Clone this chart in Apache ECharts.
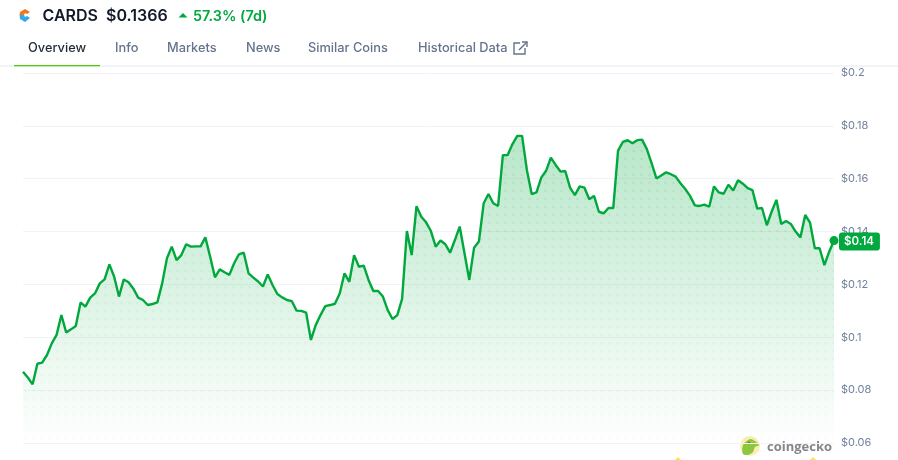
<!DOCTYPE html>
<html>
<head>
<meta charset="utf-8">
<title>CARDS price</title>
<script src="https://cdn.jsdelivr.net/npm/echarts@6/dist/echarts.min.js"></script>
<style>
    html, body { margin: 0; padding: 0; background: #fff; }
    #chart { width: 898px; height: 460px; }
</style>
</head>
<body>
<div id="chart"></div>
<script>
const tickLabels = [0.06, 0.08, 0.1, 0.12, 0.14, 0.16, 0.18, 0.2];
const tabLabels = ["Overview", "Info", "Markets", "News", "Similar Coins", "Historical Data"];
const tabOffsets = [28, 115, 167, 246, 308, 418];
const prices = [
    0.0870, 0.0848, 0.0822, 0.0900, 0.0904, 0.0933, 0.0977, 0.1009, 0.1084, 0.1018,
    0.1030, 0.1043, 0.1132, 0.1116, 0.1150, 0.1166, 0.1204, 0.1219, 0.1276, 0.1229,
    0.1154, 0.1219, 0.1208, 0.1184, 0.1150, 0.1141, 0.1122, 0.1126, 0.1132, 0.1204,
    0.1299, 0.1343, 0.1292, 0.1311, 0.1352, 0.1343, 0.1344, 0.1344, 0.1378, 0.1305,
    0.1227, 0.1257, 0.1246, 0.1236, 0.1280, 0.1314, 0.1320, 0.1242, 0.1226, 0.1211,
    0.1192, 0.1238, 0.1198, 0.1164, 0.1151, 0.1141, 0.1137, 0.1101, 0.1100, 0.1093,
    0.0990, 0.1046, 0.1084, 0.1118, 0.1122, 0.1127, 0.1166, 0.1242, 0.1210, 0.1311,
    0.1267, 0.1271, 0.1217, 0.1175, 0.1175, 0.1154, 0.1103, 0.1069, 0.1084, 0.1145,
    0.1402, 0.1311, 0.1496, 0.1456, 0.1435, 0.1402, 0.1343, 0.1366, 0.1352, 0.1320,
    0.1368, 0.1419, 0.1318, 0.1217, 0.1339, 0.1362, 0.1507, 0.1542, 0.1507, 0.1497,
    0.1689, 0.1690, 0.1731, 0.1762, 0.1762, 0.1633, 0.1542, 0.1548, 0.1604, 0.1630,
    0.1680, 0.1652, 0.1627, 0.1629, 0.1566, 0.1538, 0.1571, 0.1566, 0.1522, 0.1535,
    0.1475, 0.1469, 0.1489, 0.1489, 0.1706, 0.1739, 0.1746, 0.1734, 0.1746, 0.1748,
    0.1712, 0.1658, 0.1601, 0.1612, 0.1624, 0.1617, 0.1608, 0.1583, 0.1561, 0.1535,
    0.1499, 0.1497, 0.1502, 0.1494, 0.1571, 0.1548, 0.1543, 0.1577, 0.1555, 0.1594,
    0.1581, 0.1564, 0.1557, 0.1487, 0.1489, 0.1424, 0.1475, 0.1520, 0.1429, 0.1440,
    0.1429, 0.1400, 0.1378, 0.1463, 0.1434, 0.1337, 0.1337, 0.1273, 0.1324, 0.1366,
];
const categories = prices.map((_, i) => i);

const GREEN = "#00a83e";
const FONT = "Inter, sans-serif";
const lastIndex = prices.length - 1;

// dot texture over the area, fades out towards the bottom of the plot
function dotPattern() {
    const canvas = document.createElement("canvas");
    canvas.width = 8;
    canvas.height = 456;
    const ctx = canvas.getContext("2d");
    for (let y = 7; y < 456; y += 8) {
        const alpha = 0.02 + (0.1 * Math.max(0, 443 - y)) / 370;
        ctx.fillStyle = `rgba(0,150,70,${alpha})`;
        ctx.beginPath();
        ctx.arc(1.5, y, 1.3, 0, Math.PI * 2);
        ctx.fill();
    }
    return canvas;
}

function text(x, y, str, fill, font, extra) {
    return {
        type: "text",
        x,
        y,
        silent: true,
        style: Object.assign({ text: str, fill, font, textVerticalAlign: "middle" }, extra),
    };
}

function poly(points, fill, smooth) {
    return { type: "polygon", silent: true, shape: { points, smooth: smooth || 0 }, style: { fill } };
}

const header = [
    // logo
    poly([[20, 12], [25, 9], [30, 12], [27, 14], [25, 13], [24, 15], [19.5, 15]], "#f5761a"),
    poly([[19.5, 15], [24, 15], [25, 17], [27, 16], [30, 18], [25, 22], [20, 19]], "#35a7f2"),
    text(42.5, 16, "CARDS", "#111827", `600 16px ${FONT}`),
    text(106, 16, "$0.1366", "#111827", `600 16px ${FONT}`),
    poly([[178.5, 17.5], [183, 13], [187.5, 17.5]], GREEN),
    text(193, 16.5, "57.3% (7d)", GREEN, `600 14.4px ${FONT}`),
    // tab strip
    { type: "rect", silent: true, shape: { x: 0, y: 65, width: 898, height: 2 }, style: { fill: "#f0f3f7" } },
    { type: "rect", silent: true, shape: { x: 14, y: 65, width: 86, height: 1.2 }, style: { fill: "#4bcc00" } },
    // external link icon
    {
        type: "polyline",
        silent: true,
        shape: { points: [[520, 43], [514, 43], [514, 54], [525, 54], [525, 48]] },
        style: { stroke: "#64748b", lineWidth: 1.4, fill: "none" },
    },
    {
        type: "polyline",
        silent: true,
        shape: { points: [[522, 42], [527, 42], [527, 47]] },
        style: { stroke: "#64748b", lineWidth: 1.4, fill: "none" },
    },
    { type: "line", silent: true, shape: { x1: 527, y1: 42, x2: 519, y2: 50 }, style: { stroke: "#64748b", lineWidth: 1.4 } },
];

tabLabels.forEach((label, i) => {
    header.push(text(tabOffsets[i], 48.6, label, i === 0 ? "#1f2937" : "#64748b", `500 12.8px ${FONT}`));
});

const watermark = [
    { type: "circle", silent: true, shape: { cx: 750, cy: 446, r: 10 }, style: { fill: "#fbeeb0" } },
    poly([[743, 454], [743, 445], [750, 439], [755, 441], [759, 445], [755, 447], [753, 452], [748, 455]], "#8dc63f", 0.3),
    { type: "circle", silent: true, shape: { cx: 749, cy: 443, r: 1.2 }, style: { fill: "#5b6b5b" } },
    text(767, 447, "coingecko", "#85868a", `700 13px "Open Sans", sans-serif`),
    poly([[675, 460], [678, 457], [681, 460]], "#fce34d"),
    poly([[810, 460], [813, 457], [816, 460]], "#fce34d"),
];

const chart = echarts.init(document.getElementById("chart"));

chart.setOption({
    animation: false,
    backgroundColor: "#fff",
    grid: { left: 23, right: 64, top: 73, bottom: 17 },
    xAxis: {
        type: "category",
        data: categories,
        boundaryGap: false,
        axisLine: { show: false },
        axisTick: { show: false },
        axisLabel: { show: false },
        splitLine: { show: false },
    },
    yAxis: {
        type: "value",
        position: "right",
        min: tickLabels[0],
        max: tickLabels[tickLabels.length - 1],
        interval: 0.02,
        axisLine: { show: false },
        axisTick: { show: false },
        axisLabel: {
            margin: 7,
            padding: [6, 0, 0, 0],
            color: "#71829c",
            fontFamily: "Inter",
            fontSize: 11,
            formatter: (v) => "$" + Number(v.toFixed(2)),
        },
        splitLine: { lineStyle: { color: "#f1f3f6", width: 1 } },
    },
    series: [
        {
            // dots sit under the gradient series
            type: "line",
            data: prices,
            showSymbol: false,
            silent: true,
            z: 2,
            lineStyle: { width: 0 },
            areaStyle: { color: { image: dotPattern(), repeat: "repeat" }, opacity: 1 },
        },
        {
            type: "line",
            data: prices,
            showSymbol: false,
            z: 3,
            lineStyle: { color: GREEN, width: 2.4 },
            itemStyle: { color: GREEN },
            areaStyle: {
                color: {
                    type: "linear",
                    x: 0,
                    y: 0,
                    x2: 0,
                    y2: 1,
                    colorStops: [
                        { offset: 0, color: "rgba(0,168,62,0.4)" },
                        { offset: 1, color: "rgba(0,168,62,0)" },
                    ],
                },
            },
            endLabel: {
                show: true,
                distance: 5,
                offset: [0, 1],
                formatter: "$0.14",
                color: "#fff",
                fontFamily: "Inter",
                fontWeight: 600,
                fontSize: 11.5,
                backgroundColor: GREEN,
                borderRadius: 3,
                padding: [3, 6, 3, 5],
            },
            markPoint: {
                silent: true,
                symbol: "circle",
                symbolSize: 9,
                itemStyle: { color: GREEN },
                label: { show: false },
                data: [{ coord: [lastIndex, prices[lastIndex]] }],
            },
        },
    ],
    graphic: header.concat(watermark),
});
</script>
</body>
</html>
